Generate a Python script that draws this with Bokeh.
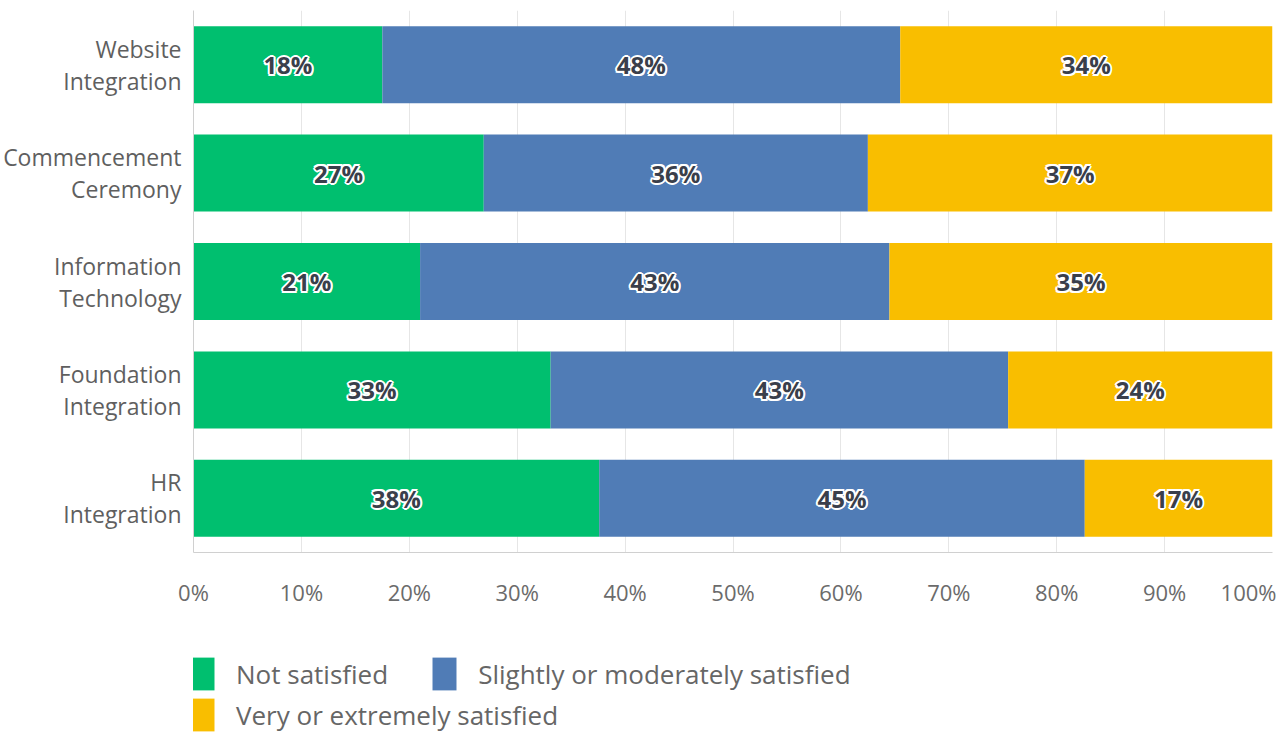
from bokeh.plotting import figure
from bokeh.layouts import column
from bokeh.models import (ColumnDataSource, FactorRange, Legend, LegendItem, FixedTicker,
                          CustomJSTickFormatter)
from bokeh.core.properties import value
from bokeh.embed import file_html
from bokeh.resources import INLINE

categories = ["Website\nIntegration", "Commencement\nCeremony", "Information\nTechnology",
              "Foundation\nIntegration", "HR\nIntegration"]
not_satisfied = [17.5, 26.9, 21.0, 33.1, 37.6]
slightly_moderately = [48.0, 35.6, 43.5, 42.4, 45.0]
very_extremely = [34.5, 37.5, 35.5, 24.5, 17.4]
label_not = ["18%", "27%", "21%", "33%", "38%"]
label_slight = ["48%", "36%", "43%", "43%", "45%"]
label_very = ["34%", "37%", "35%", "24%", "17%"]
series_names = ["Not satisfied", "Slightly or moderately satisfied", "Very or extremely satisfied"]
colors = ["#00BF6F", "#507CB6", "#F9BE00"]
x_ticks = [0, 10, 20, 30, 40, 50, 60, 70, 80, 90, 100]

FONT = "Open Sans"

src = ColumnDataSource(dict(
    cat=categories,
    ns=not_satisfied,
    sm=slightly_moderately,
    ve=very_extremely,
))

p = figure(
    width=1276, height=620,
    y_range=FactorRange(*list(reversed(categories)), range_padding=0),
    x_range=(0, 100),
    output_backend="svg", toolbar_location=None,
    min_border_left=193, min_border_right=4, min_border_top=10, min_border_bottom=68,
)
p.outline_line_color = None

r = p.hbar_stack(["ns", "sm", "ve"], y="cat", height=0.71, color=colors, source=src,
                 line_color=None)

# data labels at segment centres: white halo layers, then dark text on top
halo = [(2, 0), (-2, 0), (0, 2), (0, -2), (1.5, 1.5), (-1.5, 1.5), (1.5, -1.5), (-1.5, -1.5)]
cum = [0.0] * len(categories)
label_sets = [label_not, label_slight, label_very]
for vals, labs in zip([not_satisfied, slightly_moderately, very_extremely], label_sets):
    mids = [c + v / 2 for c, v in zip(cum, vals)]
    cum = [c + v for c, v in zip(cum, vals)]
    for dx, dy in halo:
        p.text(x=mids, y=categories, text=labs, text_align="center", text_baseline="middle",
               x_offset=dx, y_offset=dy,
               text_font=value(FONT), text_font_size="24px", text_font_style="bold",
               text_color="white")
    p.text(x=mids, y=categories, text=labs, text_align="center", text_baseline="middle",
           text_font=value(FONT), text_font_size="24px", text_font_style="bold",
           text_color="#3a3f4b")

# axes
p.xaxis.ticker = FixedTicker(ticks=x_ticks)
p.xaxis.formatter = CustomJSTickFormatter(code="return tick + '%';")
p.xaxis.major_tick_line_color = None
p.xaxis.major_tick_out = 0
p.xaxis.major_tick_in = 0
p.xaxis.minor_tick_line_color = None
p.xaxis.axis_line_color = "#d0d0d0"
p.xaxis.major_label_standoff = 24
p.xaxis.major_label_text_font = FONT
p.xaxis.major_label_text_font_size = "22px"
p.xaxis.major_label_text_color = "#6b6b6b"

p.yaxis.major_tick_line_color = None
p.yaxis.major_tick_out = 0
p.yaxis.major_tick_in = 0
p.yaxis.minor_tick_line_color = None
p.yaxis.axis_line_color = "#d0d0d0"
p.yaxis.major_label_standoff = 12
p.yaxis.major_label_text_font = FONT
p.yaxis.major_label_text_font_size = "23px"
p.yaxis.major_label_text_line_height = 1.0
p.yaxis.major_label_text_color = "#5f5f5f"
p.yaxis.major_label_text_align = "right"

p.ygrid.grid_line_color = None
p.xgrid.grid_line_color = "#e6e6e6"

# legend strip below the chart (zero-height bars out of view, only their legend shows)
p2 = figure(width=1276, height=114, x_range=(200, 300),
            y_range=FactorRange(*categories),
            output_backend="svg", toolbar_location=None,
            min_border_left=0, min_border_right=0, min_border_top=0, min_border_bottom=0)
p2.axis.visible = False
p2.grid.visible = False
p2.outline_line_color = None
r2 = p2.hbar_stack(["ns", "sm", "ve"], y="cat", height=0, color=colors, source=src,
                   line_color=None)

def make_legend(items, loc):
    return Legend(items=items, location=loc, orientation="horizontal",
                  glyph_width=30, glyph_height=41, label_standoff=19, spacing=41,
                  padding=0, margin=0, border_line_color=None, background_fill_alpha=0,
                  label_text_font=FONT, label_text_font_size="26px",
                  label_text_color="#666666", label_height=41)

leg1 = make_legend([LegendItem(label=series_names[0], renderers=[r2[0]]),
                    LegendItem(label=series_names[1], renderers=[r2[1]])], (-6, 40))
leg2 = make_legend([LegendItem(label=series_names[2], renderers=[r2[2]])], (-6, -1))
p2.add_layout(leg1, "center")
p2.add_layout(leg2, "center")

layout = column(p, p2, spacing=0)
open("out.html", "w").write(file_html(layout, INLINE))
